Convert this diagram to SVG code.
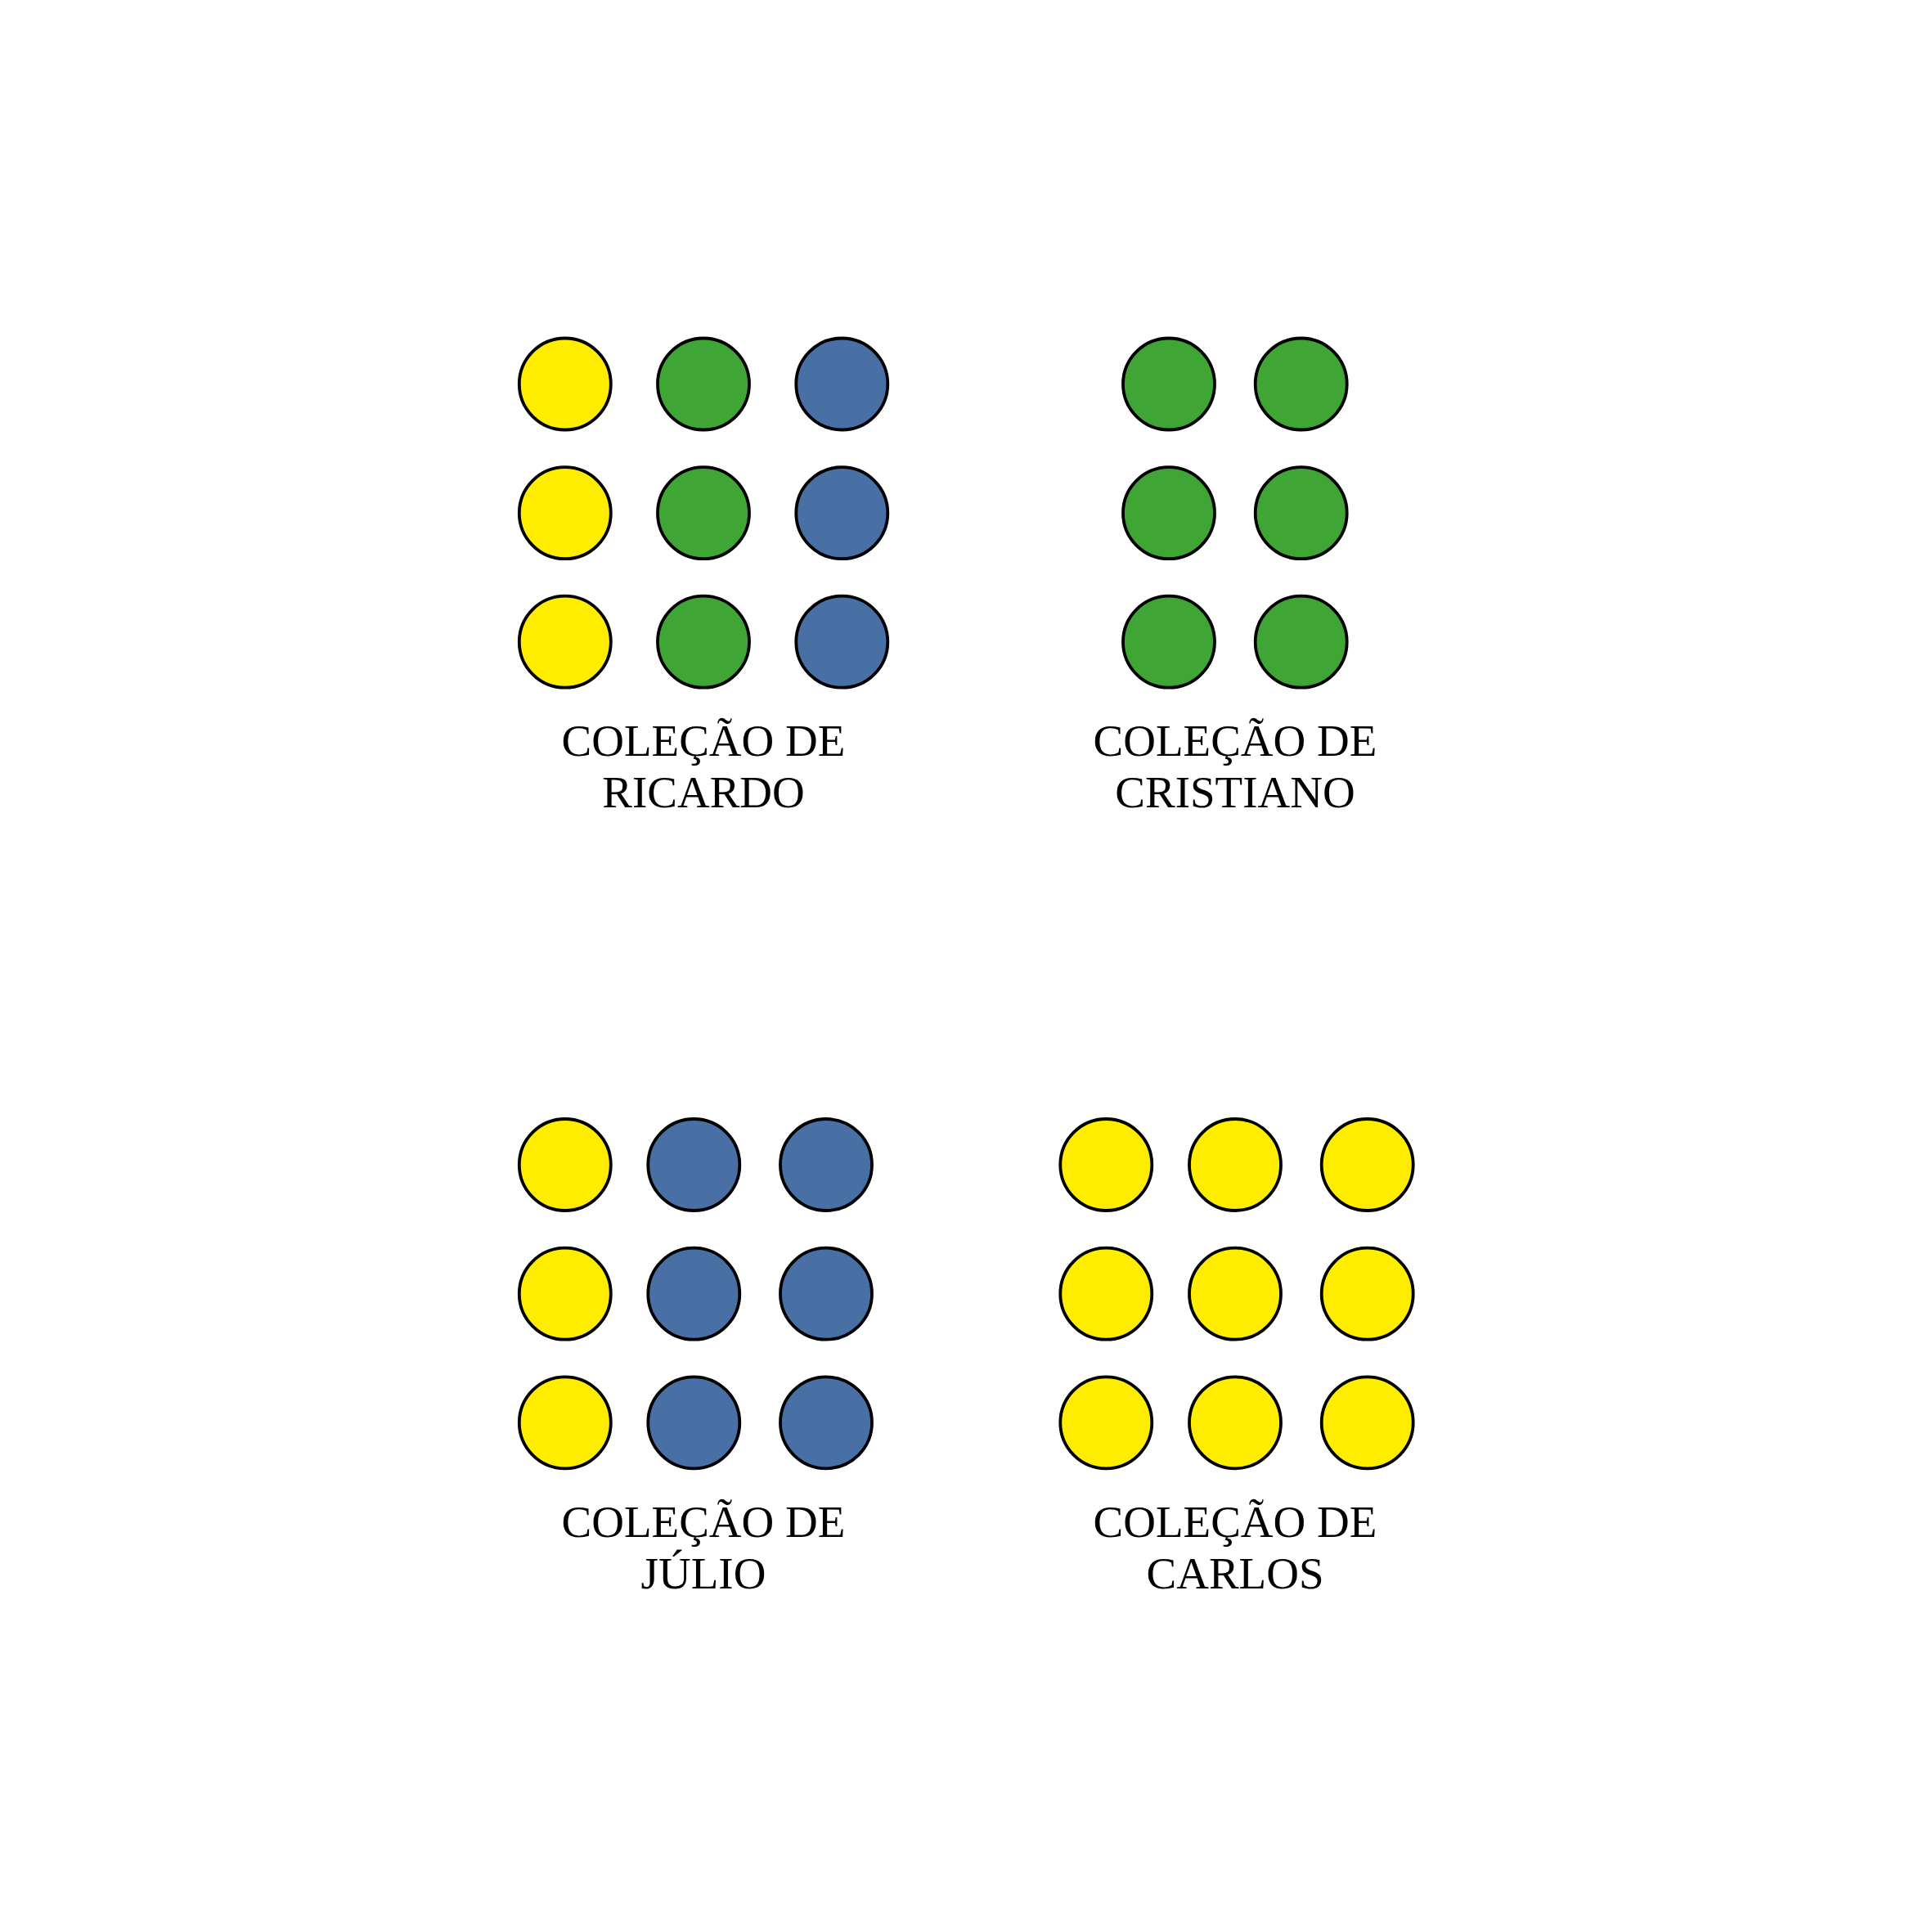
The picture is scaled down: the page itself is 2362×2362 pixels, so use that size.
<svg xmlns="http://www.w3.org/2000/svg" width="2362" height="2362" viewBox="0 0 2362 2362">
<style>
circle{stroke:#000;stroke-width:3.8}
.y{fill:#FFED00}
.g{fill:#3FA535}
.b{fill:#4870A5}
text{font-family:"Liberation Serif","Times New Roman",serif;font-size:55px;fill:#000;text-anchor:middle}
</style>
<rect width="2362" height="2362" fill="#fff"/>
<g id="ricardo">
<circle class="y" cx="690.8" cy="469.5" r="56"/>
<circle class="g" cx="860" cy="469.5" r="56"/>
<circle class="b" cx="1029.3" cy="469.5" r="56"/>
<circle class="y" cx="690.8" cy="627.2" r="56"/>
<circle class="g" cx="860" cy="627.2" r="56"/>
<circle class="b" cx="1029.3" cy="627.2" r="56"/>
<circle class="y" cx="690.8" cy="784.7" r="56"/>
<circle class="g" cx="860" cy="784.7" r="56"/>
<circle class="b" cx="1029.3" cy="784.7" r="56"/>
<text x="860" y="924">COLEÇÃO DE</text>
<text x="860" y="987">RICARDO</text>
</g>
<g id="cristiano">
<circle class="g" cx="1429" cy="469.5" r="56"/>
<circle class="g" cx="1590.7" cy="469.5" r="56"/>
<circle class="g" cx="1429" cy="627.2" r="56"/>
<circle class="g" cx="1590.7" cy="627.2" r="56"/>
<circle class="g" cx="1429" cy="784.7" r="56"/>
<circle class="g" cx="1590.7" cy="784.7" r="56"/>
<text x="1510" y="924">COLEÇÃO DE</text>
<text x="1510" y="987">CRISTIANO</text>
</g>
<g id="julio">
<circle class="y" cx="690.8" cy="1424" r="56"/>
<circle class="b" cx="848.3" cy="1424" r="56"/>
<circle class="b" cx="1010" cy="1424" r="56"/>
<circle class="y" cx="690.8" cy="1581.7" r="56"/>
<circle class="b" cx="848.3" cy="1581.7" r="56"/>
<circle class="b" cx="1010" cy="1581.7" r="56"/>
<circle class="y" cx="690.8" cy="1739.3" r="56"/>
<circle class="b" cx="848.3" cy="1739.3" r="56"/>
<circle class="b" cx="1010" cy="1739.3" r="56"/>
<text x="860" y="1879">COLEÇÃO DE</text>
<text x="860" y="1942">JÚLIO</text>
</g>
<g id="carlos">
<circle class="y" cx="1352.3" cy="1424" r="56"/>
<circle class="y" cx="1510" cy="1424" r="56"/>
<circle class="y" cx="1671.7" cy="1424" r="56"/>
<circle class="y" cx="1352.3" cy="1581.7" r="56"/>
<circle class="y" cx="1510" cy="1581.7" r="56"/>
<circle class="y" cx="1671.7" cy="1581.7" r="56"/>
<circle class="y" cx="1352.3" cy="1739.3" r="56"/>
<circle class="y" cx="1510" cy="1739.3" r="56"/>
<circle class="y" cx="1671.7" cy="1739.3" r="56"/>
<text x="1510" y="1879">COLEÇÃO DE</text>
<text x="1510" y="1942">CARLOS</text>
</g>
<g id="connectors"/>
</svg>
